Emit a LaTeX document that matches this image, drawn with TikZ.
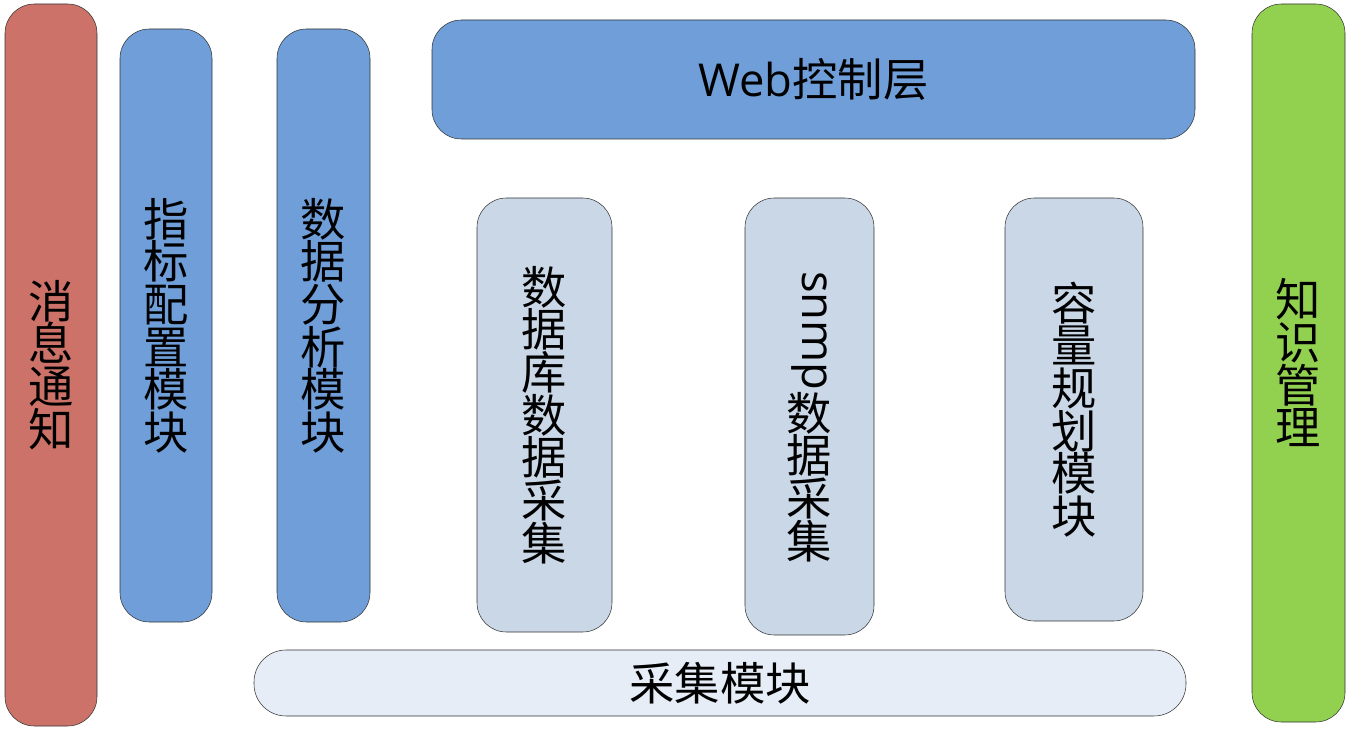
\documentclass[tikz,border=0pt]{standalone}
\usepackage{fontspec}
\setmainfont{Noto Sans CJK SC}
\newfontfamily\latinfont{Open Sans}
\usepackage{graphicx}
\usepackage{tikz}
\usetikzlibrary{positioning}
\definecolor{msgred}{HTML}{CD7268}
\definecolor{modblue}{HTML}{6F9ED9}
\definecolor{colgray}{HTML}{C9D7E7}
\definecolor{basegray}{HTML}{E6EDF7}
\definecolor{kngreen}{HTML}{92D050}
\tikzset{
  bar/.style      = {draw=black!80, rounded corners=22pt, inner sep=0pt,
                     align=center, font=\fontsize{34}{32}\selectfont},
  sidebar/.style  = {bar, fill=msgred},
  modbar/.style   = {bar, fill=modblue},
  colbar/.style   = {bar, fill=colgray},
  layerbar/.style = {bar, fill=modblue},
  basebar/.style  = {bar, fill=basegray, rounded corners=24pt},
}

\begin{document}
\begin{tikzpicture}[x=0.75pt, y=-0.75pt]
  \useasboundingbox (0,0) rectangle (1350,731);

  % side columns
  \node[sidebar, minimum width=69pt, minimum height=541.5pt]
    (msg) at (51,365) {消\\息\\通\\知};
  \node[sidebar, fill=kngreen, minimum width=69.75pt, minimum height=538.5pt]
    (kno) at (1298.5,363) {知\\识\\管\\理};

  % module columns
  \node[modbar, minimum width=69pt, minimum height=444.75pt]
    (cfg) at (166,325.5) {指\\标\\配\\置\\模\\块};
  \node[modbar, minimum width=69.75pt, minimum height=444.75pt]
    (ana) at (323.5,325.5) {数\\据\\分\\析\\模\\块};

  % web layer
  \node[layerbar, minimum width=572.25pt, minimum height=89.25pt]
    (web) at (813.5,79.5) {{\latinfont Web}控制层};

  % collectors
  \node[colbar, minimum width=101.25pt, minimum height=325.5pt]
    (dbc) at (544.5,415) {数\\据\\库\\数\\据\\采\\集};
  \node[colbar, minimum width=96.75pt, minimum height=327.75pt]
    (snmp) at (809.5,416.5) {\rotatebox{-90}{\latinfont snmp}\\数\\据\\采\\集};
  \node[colbar, minimum width=103.5pt, minimum height=317.25pt]
    (cap) at (1074,409.5) {容\\量\\规\\划\\模\\块};

  % base
  \node[basebar, minimum width=699pt, minimum height=49.5pt]
    (col) at (720,683) {采集模块};
\end{tikzpicture}
\end{document}
